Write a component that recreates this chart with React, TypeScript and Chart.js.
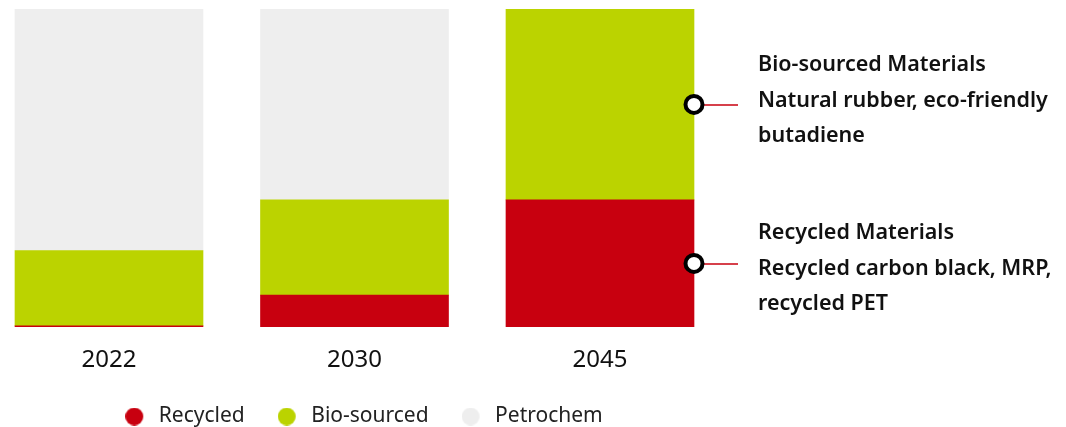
import React, { useEffect, useRef } from "react";
import { Chart, registerables } from "chart.js";

Chart.register(...registerables);

const YEARS = ["2022", "2030", "2045"];
const SERIES_NAMES = ["Recycled", "Bio-sourced", "Petrochem"];
const RECYCLED = [0.4, 10, 40];
const BIO_SOURCED = [23.6, 30, 60];
const PETROCHEM = [76, 60, 0];
const COLORS = ["#c8000f", "#bbd300", "#eeeeee"];

const ANNOTATION_SERIES = [1, 0];
const ANNOTATION_LINES = [
  ["Bio-sourced Materials", "Natural rubber, eco-friendly", "butadiene"],
  ["Recycled Materials", "Recycled carbon black, MRP,", "recycled PET"],
];
const ANNOTATION_FIRST_BASELINE = [-33, -24];

const FONT = "'Noto Sans', sans-serif";

function makeDot(color: string) {
  const c = document.createElement("canvas");
  c.width = 23;
  c.height = 18;
  const ctx = c.getContext("2d")!;
  ctx.fillStyle = color;
  ctx.beginPath();
  ctx.arc(9, 9, 9, 0, Math.PI * 2);
  ctx.fill();
  return c;
}

const annotationPlugin = {
  id: "sideNotes",
  beforeLayout(chart: any) {
    const lg = chart.legend;
    if (lg && !lg._patchedFit) {
      const orig = lg.fit;
      lg.fit = function () {
        orig.call(this);
        this.height -= 10;
      };
      lg._patchedFit = true;
    }
  },
  afterDraw(chart: any) {
    const ctx = chart.ctx;
    const last = YEARS.length - 1;
    ANNOTATION_SERIES.forEach((dsIndex, k) => {
      const el = chart.getDatasetMeta(dsIndex).data[last];
      if (!el) return;
      const { x, y, base, width } = el.getProps(["x", "y", "base", "width"], true);
      const right = x + width / 2;
      const my = (y + base) / 2;
      ctx.save();
      ctx.strokeStyle = COLORS[0];
      ctx.lineWidth = 1.5;
      ctx.beginPath();
      ctx.moveTo(right, my + 0.5);
      ctx.lineTo(right + 44, my + 0.5);
      ctx.stroke();
      ctx.beginPath();
      ctx.arc(right, my, 8.5, 0, Math.PI * 2);
      ctx.fillStyle = "#ffffff";
      ctx.fill();
      ctx.lineWidth = 4;
      ctx.strokeStyle = "#000000";
      ctx.stroke();
      ctx.fillStyle = "#111111";
      ctx.font = `600 21.5px ${FONT}`;
      ctx.textAlign = "left";
      ctx.textBaseline = "alphabetic";
      ANNOTATION_LINES[k].forEach((line, i) => {
        ctx.fillText(line, right + 64, my + ANNOTATION_FIRST_BASELINE[k] + i * 35.5);
      });
      ctx.restore();
    });
  },
};

export default function App() {
  const ref = useRef<HTMLCanvasElement>(null);
  useEffect(() => {
    if (!ref.current) return;
    const values = [RECYCLED, BIO_SOURCED, PETROCHEM];
    const dots = COLORS.map(makeDot);
    const chart = new Chart(ref.current, {
      type: "bar",
      data: {
        datasets: SERIES_NAMES.map((name, s) => ({
          label: name,
          data: values[s].map((v, i) => ({ x: i, y: v })),
          backgroundColor: COLORS[s],
          borderWidth: 0,
          barThickness: 188,
        })),
      },
      options: {
        animation: false,
        responsive: true,
        maintainAspectRatio: false,
        layout: { padding: { top: 9, left: 0, right: 338, bottom: 0 } },
        scales: {
          x: {
            type: "linear",
            stacked: true,
            offset: false,
            min: -0.444,
            max: 2.5214,
            grid: { display: false, drawTicks: false },
            border: { display: false },
            afterBuildTicks: (scale: any) => {
              scale.ticks = YEARS.map((_, i) => ({ value: i }));
            },
            afterFit: (scale: any) => {
              scale.height = 46;
            },
            ticks: {
              padding: 18.5,
              color: "#111111",
              font: { family: FONT, size: 24 },
              callback: (v: any) => YEARS[Math.round(Number(v))] ?? "",
            },
          },
          y: {
            stacked: true,
            display: false,
            min: 0,
            max: 100,
          },
        },
        plugins: {
          tooltip: { enabled: false },
          legend: {
            display: true,
            position: "bottom",
            fullSize: false,
            labels: {
              usePointStyle: true,
              pointStyleWidth: 23,
              padding: 33,
              color: "#222222",
              font: { family: FONT, size: 21 },
              generateLabels: () =>
                SERIES_NAMES.map((name, s) => ({
                  text: name,
                  fillStyle: COLORS[s],
                  strokeStyle: COLORS[s],
                  lineWidth: 0,
                  pointStyle: dots[s],
                  hidden: false,
                  datasetIndex: s,
                  fontColor: "#222222",
                })),
            },
          },
        },
      },
      plugins: [annotationPlugin],
    } as any);
    return () => chart.destroy();
  }, []);
  return (
    <div style={{ position: "absolute", left: 0, top: 0, width: 1066, height: 427 }}>
      <canvas ref={ref} />
    </div>
  );
}
